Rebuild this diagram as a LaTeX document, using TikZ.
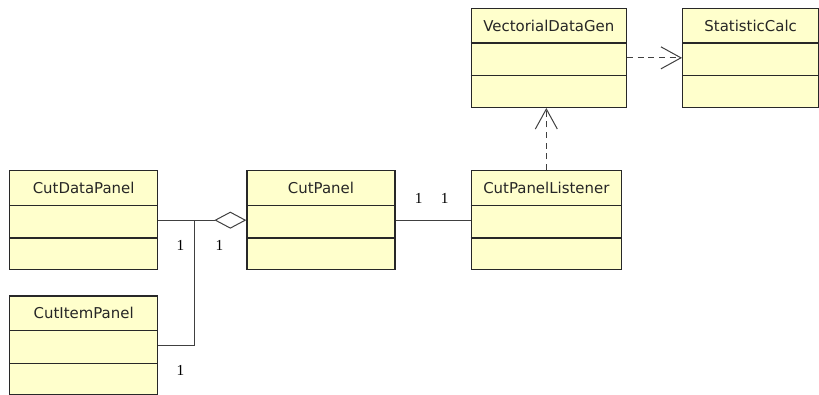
\documentclass[tikz,border=0pt]{standalone}
\usepackage{fontspec}
\newfontfamily\classfont{DejaVu Sans}
\newfontfamily\multfont{Liberation Serif}
\usetikzlibrary{arrows.meta, positioning, calc}
\definecolor{classfill}{RGB}{255,255,204}
\definecolor{classline}{RGB}{40,40,40}

\begin{document}
\begin{tikzpicture}[
    classbox/.style={rectangle, draw=classline, line width=1pt, fill=classfill, minimum width=111pt, minimum height=74.25pt, inner sep=0pt},
    classname/.style={font=\classfont\fontsize{11.2}{13}\selectfont, text=black!85, inner sep=0pt},
    mult/.style={font=\multfont\fontsize{11.5}{13}\selectfont, inner sep=0pt},
    link/.style={draw=black!75, line width=0.75pt},
    dep/.style={link, dash pattern=on 4.5pt off 3.5pt, -{Straight Barb[length=15pt, width=16.5pt]}},
    aggr/.style={link, -{Diamond[open, length=24pt, width=12.75pt]}}
]
    \useasboundingbox (0,0) rectangle (614.25pt,-295.5pt);
    % classes
    \node[classbox, anchor=north west] (cdp) at (6.75pt,-127.5pt) {};
    \node[classbox] (cip) [below=18.75pt of cdp] {};
    \node[classbox] (cp) [right=66pt of cdp] {};
    \node[classbox, minimum width=112.5pt] (lst) [right=56.25pt of cp] {};
    \node[classbox, minimum width=116.25pt] (vdg) [above=46.5pt of lst.north west, anchor=south west] {};
    \node[classbox, minimum width=102pt] (sc) [right=41.25pt of vdg] {};
    \foreach \c/\t in {cdp/CutDataPanel, cip/CutItemPanel, cp/CutPanel, lst/CutPanelListener, vdg/VectorialDataGen, sc/StatisticCalc} {
        \node[classname] (\c-name) at ($(\c.north)+(0,-13.5pt)$) {\t};
        \draw[classline, line width=1pt] ($(\c.north west)+(0,-26.5pt)$) -- ($(\c.north east)+(0,-26.5pt)$);
        \draw[classline, line width=1pt] ($(\c.north west)+(0,-51pt)$) -- ($(\c.north east)+(0,-51pt)$);
    }
    % associations
    \coordinate (jn) at ($(cdp.east)+(27pt,0)$);
    \draw[aggr] (cdp.east) -- (cp.west);
    \draw[link] (cip.east) -| (jn);
    \draw[link] (cp.east) -- (lst.west);
    \draw[dep] (lst.north) -- (lst.north |- vdg.south);
    \draw[dep] (vdg.east) -- (sc.west);
    % multiplicities
    \node[mult] (m1) at ($(jn)+(-10.5pt,-18.75pt)$) {1};
    \node[mult] (m2) at ($(cp.west)+(-20.25pt,-18.75pt)$) {1};
    \node[mult] (m3) at ($(cip.east)+(16.5pt,-18.75pt)$) {1};
    \node[mult] (m4) at ($(cp.east)+(17.25pt,16.5pt)$) {1};
    \node[mult] (m5) at ($(lst.west)+(-19.5pt,16.5pt)$) {1};
\end{tikzpicture}
\end{document}
